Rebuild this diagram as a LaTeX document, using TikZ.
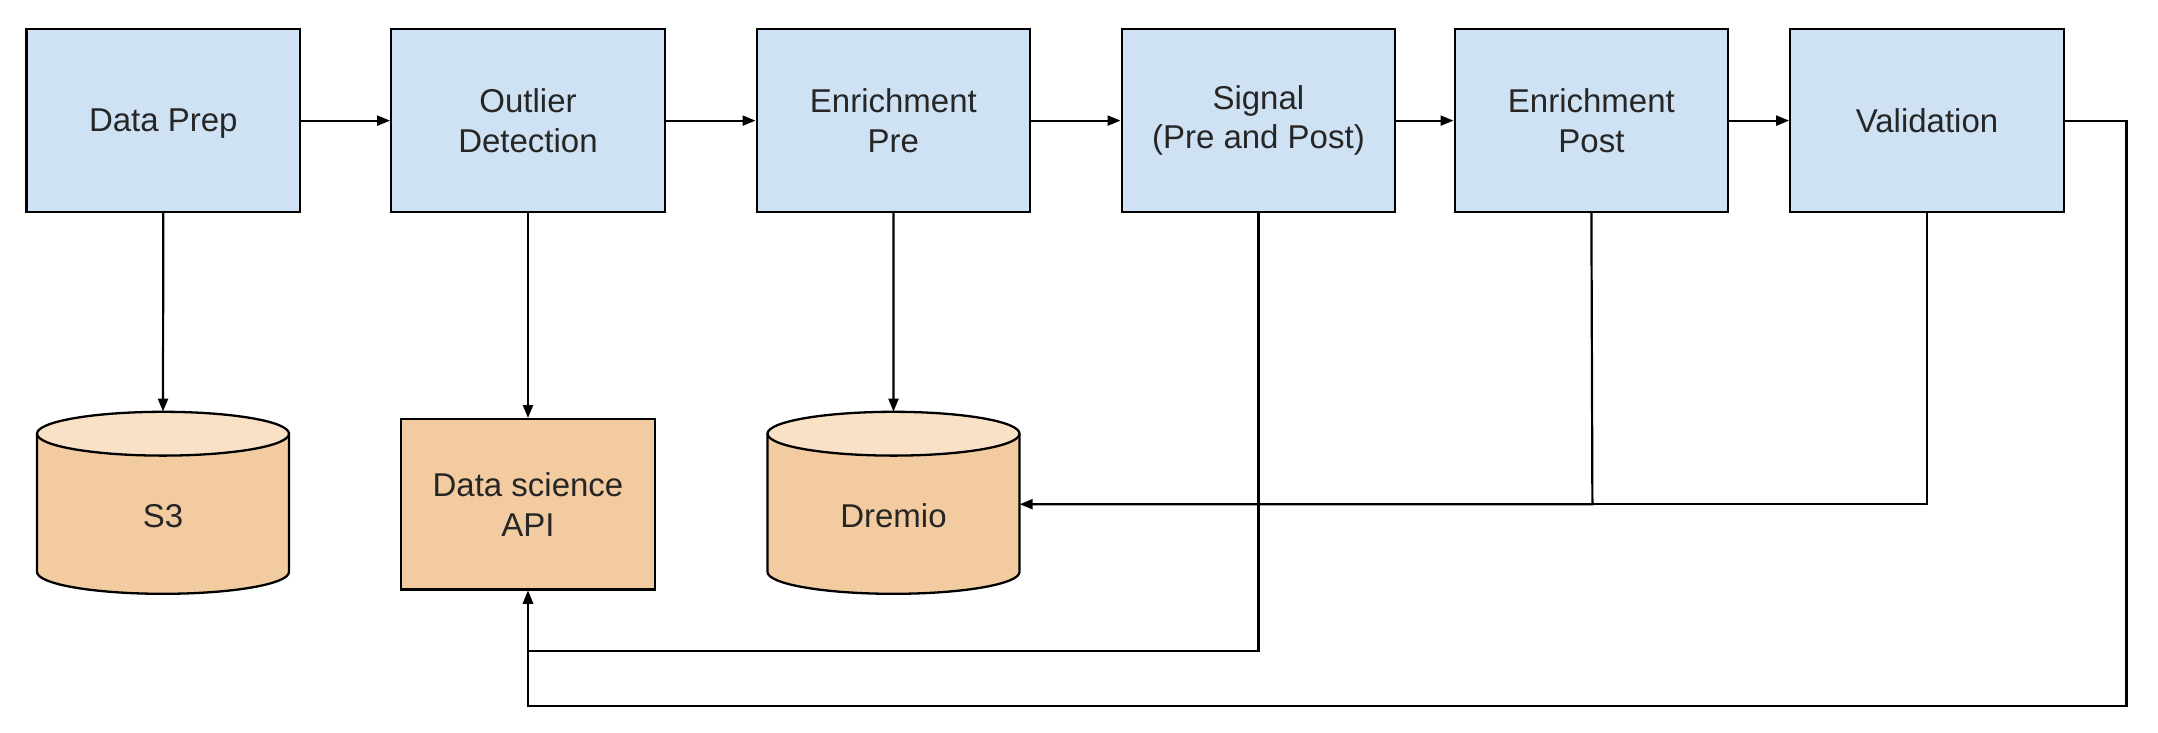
\documentclass[tikz,border=0pt]{standalone}
\usepackage{fontspec}
\setmainfont{Liberation Sans}
\usetikzlibrary{arrows.meta}
\definecolor{boxblue}{HTML}{CFE2F3}
\definecolor{orbody}{HTML}{F2CCA0}
\definecolor{ortop}{HTML}{F8E1C6}
\definecolor{txt}{HTML}{262626}
\begin{document}
\begin{tikzpicture}[x=1pt,y=-1pt,
  every node/.style={font=\fontsize{33}{39.5}\selectfont, text=txt},
  procbox/.style={draw=black, line width=2.3pt, fill=boxblue, minimum width=273.5pt, minimum height=182.6pt, align=center, inner sep=0pt},
  apibox/.style={draw=black, line width=2.3pt, fill=orbody, minimum width=254pt, minimum height=170.4pt, align=center, inner sep=0pt},
  cylspace/.style={minimum width=252pt, minimum height=182pt, inner sep=0pt},
  conn/.style={line width=2.2pt, draw=black, -{Triangle[length=13pt,width=10pt]}},
  plain/.style={line width=2.2pt, draw=black},
  cylline/.style={line width=2.3pt, draw=black}
]
\useasboundingbox (0,0) rectangle (2158,732);
\fill[white] (0,0) rectangle (2158,732);

% process boxes
\node[procbox] (prep)  at (163.3,120.6) {\raisebox{0pt}[\height][0pt]{Data Prep}};
\node[procbox] (outl)  at (528,120.6)   {Outlier\\Detection};
\node[procbox] (epre)  at (893.4,120.6) {Enrichment\\Pre};
\node[procbox] (sig)   at (1258.4,120.6) {Signal\\(Pre and Post)};
\node[procbox] (epost) at (1591.4,120.6) {Enrichment\\Post};
\node[procbox] (valid) at (1927,120.6)  {Validation};

% cylinders (drawn directly)
\foreach \cx in {163, 893.5}{
  \fill[orbody] (\cx-126,433.7) -- (\cx-126,571.9) arc[start angle=180,end angle=360,x radius=126pt,y radius=21.9pt] -- (\cx+126,433.7) -- cycle;
  \draw[cylline] (\cx-126,433.7) -- (\cx-126,571.9) arc[start angle=180,end angle=360,x radius=126pt,y radius=21.9pt] -- (\cx+126,433.7);
  \draw[cylline, fill=ortop] (\cx,433.7) ellipse [x radius=126pt, y radius=21.9pt];
}
\node[cylspace] (s3) at (163,502.8) {};
\node[cylspace] (dremio) at (893.5,502.8) {};
\node (s3lbl) at (163,516) {S3};
\node (dremiolbl) at (893.5,516) {Dremio};
\node[apibox] (api) at (528,504.4) {Data science\\API};

% main flow
\draw[conn] (prep) -- (outl);
\draw[conn] (outl) -- (epre);
\draw[conn] (epre) -- (sig);
\draw[conn] (sig) -- (epost);
\draw[conn] (epost) -- (valid);

% downward
\draw[conn] (prep.south) -- (s3.north);
\draw[conn] (outl.south) -- (api.north);
\draw[conn] (epre.south) -- (dremio.north);

% Enrichment Post / Validation to Dremio
\coordinate (dy) at (1592.4,504.2);
\draw[conn] (epost.south) -- (dy) -- (dremio.east |- dy);
\draw[plain] (valid.south) |- (dy);

% Signal loop to API
\coordinate (sy) at (1258.4,651.3);
\draw[conn] (sig.south) -- (sy) -| (api.south);

% Validation loop to API
\coordinate (vr) at (2126.4,120.6);
\coordinate (vb) at (2126.4,706.3);
\draw[conn] (valid.east) -- (vr) -- (vb) -| (api.south);
\end{tikzpicture}
\end{document}
